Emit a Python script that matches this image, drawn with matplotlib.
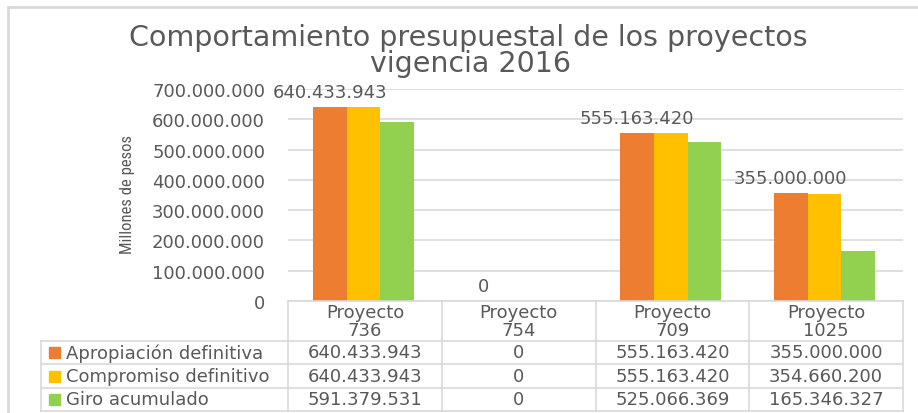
import matplotlib
matplotlib.use("Agg")
import matplotlib.pyplot as plt
from matplotlib.lines import Line2D
from matplotlib.patches import Rectangle
import numpy as np

categories = ["Proyecto\n736", "Proyecto\n754", "Proyecto\n709", "Proyecto\n1025"]
series_names = ["Apropiación definitiva", "Compromiso definitivo", "Giro acumulado"]
apropiacion = [640433943, 0, 555163420, 355000000]
compromiso = [640433943, 0, 555163420, 354660200]
giro = [591379531, 0, 525066369, 165346327]
colors = ["#ED7D31", "#FFC000", "#92D050"]
yticks = [0, 100000000, 200000000, 300000000, 400000000, 500000000, 600000000, 700000000]
title_lines = ["Comportamiento presupuestal de los proyectos", "vigencia 2016"]
ylabel = "Millones de pesos"

TXT = "#595959"
GRID = "#D9D9D9"
W, H = 918, 414
FS = 13


def fmt(v):
    return f"{v:,.0f}".replace(",", ".")


def fx(px):
    return px / W


def fy(py):
    return 1 - py / H


fig = plt.figure(figsize=(9.18, 4.14), dpi=100)
fig.patch.set_facecolor("white")

x0, x1 = 288, 903
y_top, y_bot = 90, 302
ax = fig.add_axes([fx(x0), fy(y_bot), fx(x1 - x0), (y_bot - y_top) / H])

data = [apropiacion, compromiso, giro]
n = len(categories)
x = np.arange(n)
bw = 0.219
for i, (vals, c) in enumerate(zip(data, colors)):
    bars = ax.bar(x + (i - 1) * bw - 0.01, vals, width=bw, color=c, zorder=3)
    if i == 0:
        for b, v in zip(bars, vals):
            ax.annotate(fmt(v), (b.get_x() + b.get_width() / 2, v),
                        xytext=(0, 11), textcoords="offset points",
                        ha="center", va="center", fontsize=FS, color=TXT)

ax.set_xlim(-0.5, n - 0.5)
ax.set_ylim(0, 700000000)
ax.set_yticks(yticks)
ax.set_yticklabels([fmt(v) for v in yticks], fontsize=FS, color=TXT)
ax.tick_params(axis="y", length=0, pad=16.5)
ax.set_xticks([])
ax.yaxis.grid(True, color=GRID, linewidth=1.2, zorder=0)
for s in ax.spines.values():
    s.set_visible(False)
ax.set_ylabel(ylabel, fontsize=12, color=TXT, fontweight="normal",
              family=["Roboto Condensed", "Noto Sans Condensed", "Noto Sans", "Liberation Sans"],
              fontstretch="condensed")
ax.yaxis.set_label_coords(-0.249, 0.505)

fig.text(fx(468), fy(38), title_lines[0], ha="center", va="center", fontsize=20.5, color=TXT)
fig.text(fx(470), fy(64), title_lines[1], ha="center", va="center", fontsize=20.5, color=TXT)

row_edges = [302, 342, 365, 389, 412]
col_edges = [x0 + k * (x1 - x0) / n for k in range(n + 1)]
left = 41
lw = 1.2
fig.add_artist(Line2D([fx(x0), fx(x1)], [fy(302), fy(302)], color=GRID, lw=lw))
for ry in row_edges[1:]:
    fig.add_artist(Line2D([fx(left), fx(x1)], [fy(ry), fy(ry)], color=GRID, lw=lw))
for cx in col_edges:
    fig.add_artist(Line2D([fx(cx), fx(cx)], [fy(302), fy(412)], color=GRID, lw=lw))
fig.add_artist(Line2D([fx(left), fx(left)], [fy(342), fy(412)], color=GRID, lw=lw))

for k, cat in enumerate(categories):
    cx = (col_edges[k] + col_edges[k + 1]) / 2
    fig.text(fx(cx), fy(322.5), cat, ha="center", va="center", fontsize=FS,
             color=TXT, linespacing=1.0)

for r, (name, vals, c) in enumerate(zip(series_names, data, colors)):
    cy = (row_edges[r + 1] + row_edges[r + 2]) / 2
    fig.add_artist(Rectangle((fx(48.5), fy(cy + 5.5)), fx(11.5), 11 / H, color=c,
                             transform=fig.transFigure))
    fig.text(fx(66), fy(cy), name, ha="left", va="center", fontsize=FS, color=TXT)
    for k, v in enumerate(vals):
        cx = (col_edges[k] + col_edges[k + 1]) / 2
        fig.text(fx(cx), fy(cy), fmt(v), ha="center", va="center", fontsize=FS,
                 color=TXT)

fig.add_artist(Line2D([fx(8), fx(918)], [fy(8), fy(8)], color=GRID, lw=2))
fig.add_artist(Line2D([fx(8), fx(8)], [fy(8), fy(414)], color=GRID, lw=2))

fig.savefig("out.png", dpi=100, facecolor="white")
